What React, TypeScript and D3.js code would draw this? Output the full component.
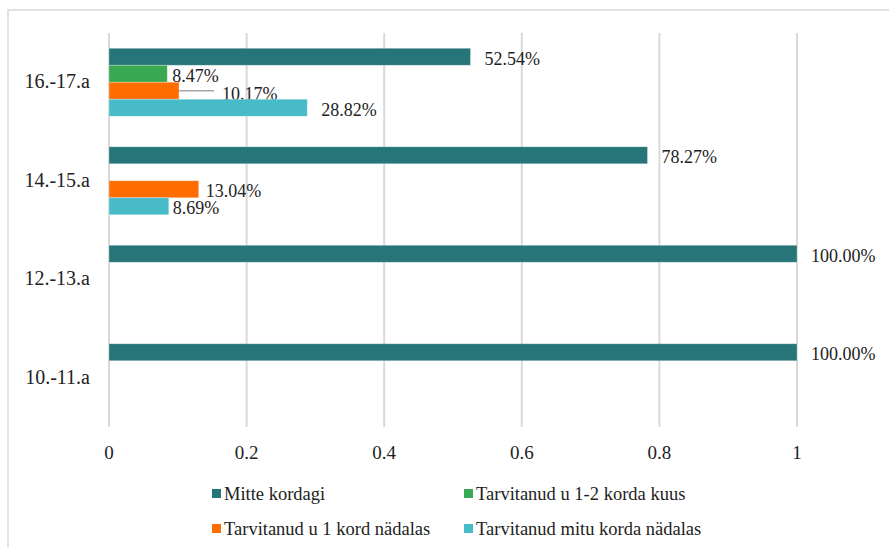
import React from "react";
import * as d3 from "d3";

const categories = ["16.-17.a", "14.-15.a", "12.-13.a", "10.-11.a"];
const seriesNames = [
  "Mitte kordagi",
  "Tarvitanud u 1-2 korda kuus",
  "Tarvitanud u 1 kord nädalas",
  "Tarvitanud mitu korda nädalas",
];
const mitteKordagi = [0.5254, 0.7827, 1.0, 1.0];
const kordaKuus = [0.0847, null, null, null];
const kordNadalas = [0.1017, 0.1304, null, null];
const mituKorda = [0.2882, 0.0869, null, null];
const seriesValues = [mitteKordagi, kordaKuus, kordNadalas, mituKorda];
const tickValues = [0, 0.2, 0.4, 0.6, 0.8, 1];
const tickLabels = ["0", "0.2", "0.4", "0.6", "0.8", "1"];

const colors = ["#267579", "#3aa853", "#ff6d00", "#47bcc8"];

// label nudges (layout only): [series][category] -> dx from bar end
const labelDx: Record<string, number> = {
  "1-0": 5,
  "2-0": 43,
  "2-1": 7,
  "3-1": 4,
};

const FONT = "'Liberation Serif', 'Times New Roman', serif";

export default function App() {
  const W = 889;
  const H = 547;
  const x = d3.scaleLinear().domain([0, 1]).range([109, 797]);
  const y = d3
    .scaleBand<string>()
    .domain(categories)
    .range([33, 427])
    .paddingInner(0.31)
    .paddingOuter(0.155);
  const ys = d3
    .scaleBand<number>()
    .domain(d3.range(seriesNames.length))
    .range([0, y.bandwidth()])
    .padding(0);

  const legendPos = [
    [212, 500],
    [464, 500],
    [212, 535],
    [464, 535],
  ];
  const ts = { fontFamily: FONT };

  return (
    <div style={{ position: "absolute", left: 0, top: 0 }}>
      <svg width={W} height={H} style={{ display: "block" }}>
        <rect x={0} y={0} width={W} height={H} fill="#fff" />
        <rect x={8} y={10} width={W + 10} height={H + 10} fill="none" stroke="#d9d9d9" strokeWidth={1.5} />
        {tickValues.map((t, i) => (
          <g key={i}>
            <line x1={x(t)} x2={x(t)} y1={33} y2={427} stroke="#d9d9d9" strokeWidth={2} />
            <text x={x(t)} y={459} textAnchor="middle" fontSize={19} fill="#222" style={ts}>
              {tickLabels[i]}
            </text>
          </g>
        ))}
        {categories.map((c) => (
          <text key={c} x={90} y={(y(c) as number) + y.bandwidth() / 2 + 6} textAnchor="end" fontSize={20} fill="#222" style={ts}>
            {c}
          </text>
        ))}
        {seriesValues.map((vals, si) =>
          vals.map((v, ci) => {
            if (v == null) return null;
            const y0 = (y(categories[ci]) as number) + (ys(si) as number);
            const h = ys.bandwidth();
            const xe = x(v);
            const key = `${si}-${ci}`;
            const dx = labelDx[key] ?? 14;
            return (
              <g key={key}>
                <rect x={x(0)} y={y0} width={xe - x(0)} height={h} fill={colors[si]} stroke="#ffffff" strokeOpacity={0.35} strokeWidth={0.8} />
                {key === "2-0" && (
                  <line x1={xe} x2={xe + 35} y1={y0 + h / 2} y2={y0 + h / 2} stroke="#a6a6a6" strokeWidth={1.5} />
                )}
                <text x={xe + dx} y={y0 + h / 2 + (key === "2-0" ? 9.5 : 8)} fontSize={18} fill="#222" style={ts}>
                  {d3.format(".2%")(v)}
                </text>
              </g>
            );
          })
        )}
        {seriesNames.map((s, i) => (
          <g key={s}>
            <rect x={legendPos[i][0]} y={legendPos[i][1] - 11} width={9} height={9} fill={colors[i]} />
            <text x={legendPos[i][0] + 12} y={legendPos[i][1]} fontSize={18.5} fill="#222" style={ts}>
              {s}
            </text>
          </g>
        ))}
      </svg>
    </div>
  );
}
